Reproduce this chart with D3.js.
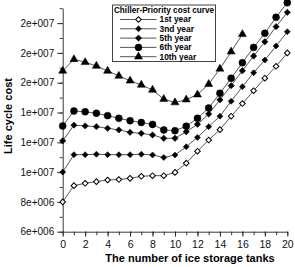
<!DOCTYPE html>
<html>
<head>
<meta charset="utf-8">
<script src="https://cdn.jsdelivr.net/npm/d3@7"></script>
<style>
  body { margin: 0; background: #fff; }
  svg { display: block; font-family: "Liberation Sans", Arial, sans-serif; }
</style>
</head>
<body>
<div id="chart"></div>
<script>
// data (life cycle cost)
var tanks = d3.range(0, 21);
var year1 = [8.0e6, 9.09e6, 9.25e6, 9.36e6, 9.47e6, 9.5e6, 9.58e6, 9.72e6, 9.76e6, 9.76e6, 9.98e6, 10.6e6, 11.4e6, 12.15e6, 12.85e6, 13.75e6, 14.6e6, 15.46e6, 16.3e6, 17.1e6, 18.0e6];
var year3 = [10.0e6, 11.17e6, 11.17e6, 11.2e6, 11.17e6, 11.17e6, 11.17e6, 11.2e6, 11.15e6, 10.98e6, 11.15e6, 11.7e6, 12.33e6, 13.05e6, 13.75e6, 14.75e6, 15.73e6, 16.67e6, 17.52e6, 18.46e6, 19.42e6];
var year5 = [12.1e6, 13.15e6, 13.1e6, 13.05e6, 12.94e6, 12.83e6, 12.67e6, 12.6e6, 12.49e6, 12.27e6, 12.27e6, 12.71e6, 13.21e6, 13.9e6, 14.85e6, 15.8e6, 16.8e6, 17.79e6, 18.75e6, 19.76e6, 20.72e6];
var year6 = [13.1e6, 14.1e6, 14.05e6, 13.95e6, 13.79e6, 13.61e6, 13.45e6, 13.33e6, 13.2e6, 12.83e6, 12.78e6, 13.08e6, 13.61e6, 14.3e6, 15.29e6, 16.3e6, 17.34e6, 18.37e6, 19.32e6, 20.39e6, 21.37e6];
var year10 = [16.79e6, 17.57e6, 17.37e6, 17.12e6, 16.79e6, 16.45e6, 16.13e6, 15.85e6, 15.51e6, 14.9e6, 14.67e6, 14.86e6, 15.2e6, 15.9e6, 16.93e6, 18.08e6, 19.25e6];

var seriesNames = ["1st year", "3nd year", "5th year", "6th year", "10th year"];
var seriesValues = [year1, year3, year5, year6, year10];

var yTickValues = [6e6, 8e6, 10e6, 12e6, 14e6, 16e6, 18e6, 20e6];
var yTickLabels = ["6e+006", "8e+006", "1e+007", "1e+007", "1e+007", "2e+007", "2e+007", "2e+007"];
var xTickValues = [0, 2, 4, 6, 8, 10, 12, 14, 16, 18, 20];

var width = 295, height = 267;

var svg = d3.select("#chart")
    .append("svg")
    .attr("width", width)
    .attr("height", height);

// scales
var x = d3.scaleLinear().domain([0, 20]).range([62.7, 287.3]);
var y = d3.scaleLinear().domain([6e6, 2.1e7]).range([231.7, 8.2]);

// marker shapes per series
var markers = [
    { type: d3.symbolSquare, size: 16, rotate: 45, fill: "#fff" },
    { type: d3.symbolSquare, size: 18, rotate: 45, fill: "#000" },
    { type: d3.symbolSquare, size: 20, rotate: 45, fill: "#000" },
    { type: d3.symbolCircle, size: 38, rotate: 0, fill: "#000" },
    { type: d3.symbolTriangle, size: 28, rotate: 0, fill: "#000" }
];

// x-axis
var xAxis = svg.append("g")
    .attr("transform", "translate(0," + y(6e6) + ")");
xAxis.append("g")
    .call(d3.axisBottom(x).tickValues(d3.range(0, 21)).tickSize(3.5).tickFormat(""))
    .call(function (g) { g.select(".domain").remove(); });
xAxis.append("g")
    .call(d3.axisBottom(x).tickValues(xTickValues).tickSize(5).tickSizeOuter(0).tickPadding(4).tickFormat(d3.format("d")))
    .selectAll("text")
    .style("font-size", "10.5px")
    .attr("fill", "#111");

// y-axis
var yAxis = svg.append("g")
    .attr("transform", "translate(" + x(0) + ",0)");
yAxis.append("g")
    .call(d3.axisLeft(y).tickValues(d3.range(6e6, 2.15e7, 1e6)).tickSize(3).tickFormat(""))
    .call(function (g) { g.select(".domain").remove(); });
yAxis.append("g")
    .call(d3.axisLeft(y).tickValues(yTickValues).tickSize(5.5).tickSizeOuter(0).tickPadding(3)
        .tickFormat(function (d, i) { return yTickLabels[i]; }))
    .selectAll("text")
    .style("font-size", "10px")
    .attr("fill", "#111");

svg.selectAll(".domain, .tick line").attr("stroke", "#222").attr("stroke-width", 0.9);

// axis titles
svg.append("text")
    .attr("x", 190)
    .attr("y", 262)
    .style("text-anchor", "middle")
    .style("font-size", "11px")
    .style("font-weight", "bold")
    .text("The number of ice storage tanks");

svg.append("text")
    .attr("transform", "translate(12,116) rotate(-90)")
    .style("text-anchor", "middle")
    .style("font-size", "11px")
    .style("font-weight", "bold")
    .text("Life cycle cost");

// lines and markers
var line = d3.line()
    .x(function (d, i) { return x(tanks[i]); })
    .y(function (d) { return y(d); });

seriesValues.forEach(function (vals, s) {
    var m = markers[s];
    svg.append("path")
        .datum(vals)
        .attr("fill", "none")
        .attr("stroke", "#444")
        .attr("stroke-width", 0.9)
        .attr("d", line);

    svg.selectAll(".m" + s)
        .data(vals)
        .enter()
        .append("path")
        .attr("class", "m" + s)
        .attr("d", d3.symbol().type(m.type).size(m.size))
        .attr("transform", function (d, i) { return "translate(" + x(tanks[i]) + "," + y(d) + ") rotate(" + m.rotate + ")"; })
        .attr("fill", m.fill)
        .attr("stroke", "#000")
        .attr("stroke-width", s == 0 ? 1 : 0.5);
});

// legend
var legend = svg.append("g").attr("class", "D3Legend");
legend.append("rect")
    .attr("x", 112.5)
    .attr("y", 5)
    .attr("width", 103)
    .attr("height", 56.5)
    .attr("fill", "#fff")
    .attr("stroke", "#444")
    .attr("stroke-width", 1);

legend.append("text")
    .attr("x", 164)
    .attr("y", 12.8)
    .style("text-anchor", "middle")
    .style("font-size", "8.2px")
    .style("font-weight", "bold")
    .text("Chiller-Priority cost curve");

var entry = legend.selectAll(".entry")
    .data(seriesNames)
    .enter().append("g")
    .attr("class", "entry")
    .attr("transform", function (d, idx) { return "translate(0," + (19.5 + idx * 9.3) + ")"; });

entry.append("line")
    .attr("x1", 120)
    .attr("x2", 156.5)
    .attr("stroke", "#444")
    .attr("stroke-width", 0.9);

entry.append("path")
    .attr("d", function (d, idx) { return d3.symbol().type(markers[idx].type).size(markers[idx].size)(); })
    .attr("transform", function (d, idx) { return "translate(138.5,0) rotate(" + markers[idx].rotate + ")"; })
    .attr("fill", function (d, idx) { return markers[idx].fill; })
    .attr("stroke", "#000")
    .attr("stroke-width", function (d, idx) { return idx == 0 ? 1 : 0.5; });

entry.append("text")
    .attr("x", 159.5)
    .attr("dy", ".35em")
    .style("font-size", "8.4px")
    .style("font-weight", "bold")
    .text(function (d) { return d; });
</script>
</body>
</html>
